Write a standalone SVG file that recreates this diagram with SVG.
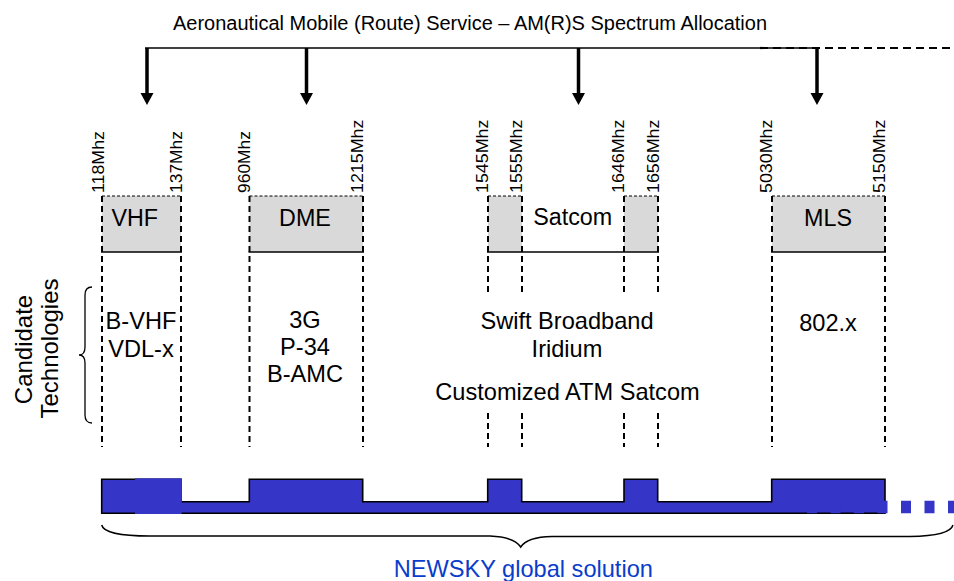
<svg xmlns="http://www.w3.org/2000/svg" width="954" height="581" viewBox="0 0 954 581">
<style>
text{font-family:"Liberation Sans",Arial,sans-serif;fill:#000}
.t{font-size:20px}
.f{font-size:16.5px}
.b{font-size:23.3px}
.c{font-size:23.6px;text-anchor:middle}
.m{text-anchor:middle}
.box{fill:#d9d9d9;stroke:none}
.top{stroke:#000;stroke-width:1;stroke-dasharray:3,2;fill:none}
.bot{stroke:#000;stroke-width:1.6;fill:none}
.dash{stroke:#000;stroke-width:2;stroke-dasharray:6,4;fill:none}
.shaft{stroke:#000;stroke-width:3.5;fill:none}
.head{fill:#000}
</style>
<g id="title">
<text class="t" x="173" y="30" textLength="594" lengthAdjust="spacingAndGlyphs">Aeronautical Mobile (Route) Service – AM(R)S Spectrum Allocation</text>
</g>
<g id="connectors">
<line x1="145" y1="48" x2="818" y2="48" stroke="#000" stroke-width="1.5"/>
<line x1="760" y1="48" x2="954" y2="48" stroke="#000" stroke-width="2.2" stroke-dasharray="8,5"/>
<line class="shaft" x1="147" y1="48" x2="147" y2="94"/>
<polygon class="head" points="140.5,93 153.5,93 147,105"/>
<line class="shaft" x1="306.5" y1="48" x2="306.5" y2="94"/>
<polygon class="head" points="300,93 313,93 306.5,105"/>
<line class="shaft" x1="578.5" y1="48" x2="578.5" y2="94"/>
<polygon class="head" points="572,93 585,93 578.5,105"/>
<line class="shaft" x1="817" y1="48" x2="817" y2="94"/>
<polygon class="head" points="810.5,93 823.5,93 817,105"/>
</g>
<g id="vhf">
<rect class="box" x="102" y="196" width="79" height="56"/>
<line class="top" x1="102" y1="196" x2="181" y2="196"/>
<line class="bot" x1="101" y1="252" x2="182" y2="252"/>
<line class="dash" x1="102" y1="196" x2="102" y2="447"/>
<line class="dash" x1="181" y1="196" x2="181" y2="447"/>
<text class="f" transform="translate(104,193) rotate(-90)" textLength="62" lengthAdjust="spacingAndGlyphs">118Mhz</text>
<text class="f" transform="translate(181.7,193) rotate(-90)" textLength="62" lengthAdjust="spacingAndGlyphs">137Mhz</text>
<text class="b" x="111.5" y="225.5">VHF</text>
<text class="c" x="141" y="329">B-VHF</text>
<text class="c" x="141" y="356.5">VDL-x</text>
</g>
<g id="dme">
<rect class="box" x="249.5" y="196" width="113.5" height="56"/>
<line class="top" x1="249.5" y1="196" x2="363" y2="196"/>
<line class="bot" x1="248.5" y1="252" x2="364" y2="252"/>
<line class="dash" x1="249.5" y1="196" x2="249.5" y2="447"/>
<line class="dash" x1="363" y1="196" x2="363" y2="447"/>
<text class="f" transform="translate(250,193) rotate(-90)" textLength="62" lengthAdjust="spacingAndGlyphs">960Mhz</text>
<text class="f" transform="translate(363.3,193) rotate(-90)" textLength="73.5" lengthAdjust="spacingAndGlyphs">1215Mhz</text>
<text class="b m" x="305" y="225.5">DME</text>
<text class="c" x="305" y="327.5">3G</text>
<text class="c" x="305" y="355">P-34</text>
<text class="c" x="305" y="382">B-AMC</text>
</g>
<g id="satcom">
<rect class="box" x="488" y="196" width="34" height="56"/>
<rect class="box" x="624" y="196" width="34" height="56"/>
<line class="top" x1="488" y1="196" x2="522" y2="196"/>
<line class="top" x1="624" y1="196" x2="658" y2="196"/>
<line class="bot" x1="487" y1="252" x2="659" y2="252"/>
<line class="dash" x1="488" y1="196" x2="488" y2="294"/>
<line class="dash" x1="522" y1="196" x2="522" y2="294"/>
<line class="dash" x1="624" y1="196" x2="624" y2="294"/>
<line class="dash" x1="658" y1="196" x2="658" y2="294"/>
<line class="dash" x1="488" y1="413" x2="488" y2="447"/>
<line class="dash" x1="522" y1="413" x2="522" y2="447"/>
<line class="dash" x1="624" y1="413" x2="624" y2="447"/>
<line class="dash" x1="658" y1="413" x2="658" y2="447"/>
<text class="f" transform="translate(488.3,193) rotate(-90)" textLength="73.5" lengthAdjust="spacingAndGlyphs">1545Mhz</text>
<text class="f" transform="translate(522.3,193) rotate(-90)" textLength="73.5" lengthAdjust="spacingAndGlyphs">1555Mhz</text>
<text class="f" transform="translate(624,193) rotate(-90)" textLength="73.5" lengthAdjust="spacingAndGlyphs">1646Mhz</text>
<text class="f" transform="translate(658.5,193) rotate(-90)" textLength="73.5" lengthAdjust="spacingAndGlyphs">1656Mhz</text>
<text class="b m" x="572.7" y="225">Satcom</text>
<text class="c" x="567" y="329.3">Swift Broadband</text>
<text class="c" x="567" y="356.7">Iridium</text>
<text class="c" x="567.5" y="400">Customized ATM Satcom</text>
</g>
<g id="mls">
<rect class="box" x="772" y="196" width="113" height="56"/>
<line class="top" x1="772" y1="196" x2="885" y2="196"/>
<line class="bot" x1="771" y1="252" x2="886" y2="252"/>
<line class="dash" x1="772" y1="196" x2="772" y2="447"/>
<line class="dash" x1="885" y1="196" x2="885" y2="447"/>
<text class="f" transform="translate(772,193) rotate(-90)" textLength="73.5" lengthAdjust="spacingAndGlyphs">5030Mhz</text>
<text class="f" transform="translate(885,193) rotate(-90)" textLength="73.5" lengthAdjust="spacingAndGlyphs">5150Mhz</text>
<text class="b m" x="828" y="225.5">MLS</text>
<text class="c" x="828" y="330.5">802.x</text>
</g>
<g id="candidate">
<text class="c" style="font-size:24px" transform="translate(32,349.5) rotate(-90)">Candidate</text>
<text class="c" style="font-size:24px" transform="translate(58,348.5) rotate(-90)">Technologies</text>
<path d="M92,287 Q85,287 85,295 L85,347 Q85,355 79,355 Q85,355 85,363 L85,415 Q85,423 92,423" fill="none" stroke="#000" stroke-width="1.3"/>
</g>
<g id="bar">
<path d="M101.7,479.3 H181 V501.7 H249.3 V479.3 H362.7 V501.7 H487.7 V479.3 H521.7 V501.7 H624 V479.3 H657.7 V501.7 H771.7 V479.3 H885 V513.3 H101.7 Z" fill="#3535c8" stroke="#000" stroke-width="1.6"/>
<rect x="135" y="478.3" width="46.7" height="35.7" fill="#3535c8"/>
<line x1="807" y1="507" x2="960" y2="507" stroke="#3535c8" stroke-width="12.5" stroke-dasharray="10,13.5"/>
</g>
<g id="newsky">
<path d="M101.7,525 Q104,536 150,536 L490,536 Q514,537 520.7,547 Q527,537 552,536.5 L910,536.5 Q950,536 953,525" fill="none" stroke="#000" stroke-width="1.5"/>
<text class="c" x="523.3" y="577" style="fill:#0a3ccc">NEWSKY global solution</text>
</g>
</svg>
